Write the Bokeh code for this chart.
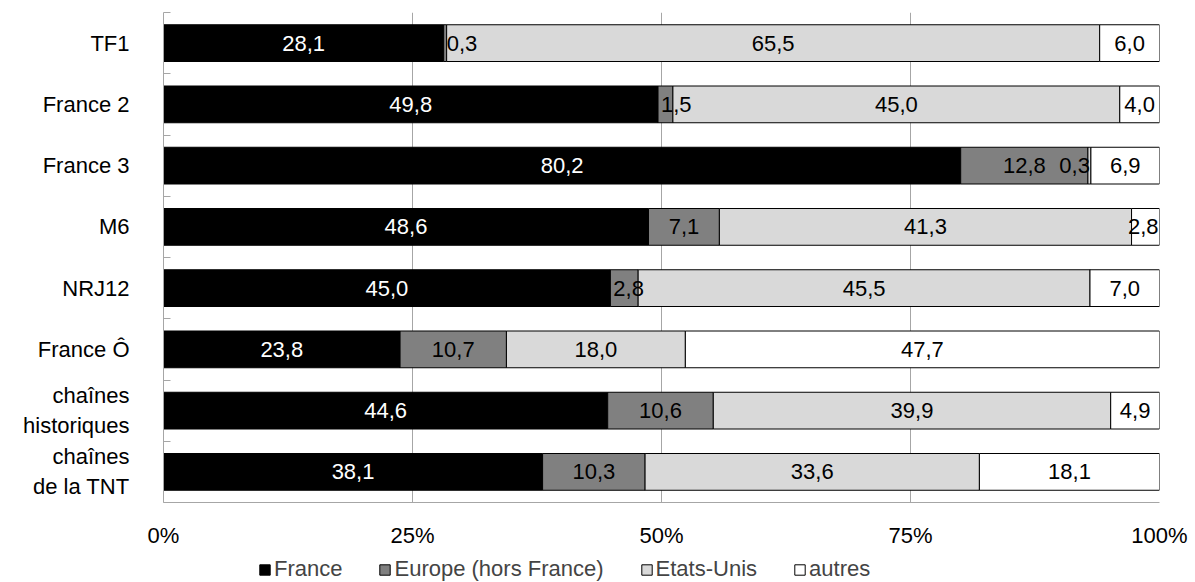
import numpy as np
from bokeh.plotting import figure
from bokeh.layouts import column
from bokeh.models import (ColumnDataSource, Range1d, FixedTicker, PrintfTickFormatter,
                          Legend, LegendItem)
from bokeh.core.properties import value
from bokeh.embed import file_html
from bokeh.resources import INLINE

categories = ["TF1", "France 2", "France 3", "M6", "NRJ12", "France Ô",
              "chaînes\nhistoriques", "chaînes\nde la TNT"]
series = ["France", "Europe (hors France)", "Etats-Unis", "autres"]
france = [28.1, 49.8, 80.2, 48.6, 45.0, 23.8, 44.6, 38.1]
europe = [0.3, 1.5, 12.8, 7.1, 2.8, 10.7, 10.6, 10.3]
etats_unis = [65.5, 45.0, 0.3, 41.3, 45.5, 18.0, 39.9, 33.6]
autres = [6.0, 4.0, 6.9, 2.8, 7.0, 47.7, 4.9, 18.1]
x_ticks = [0, 25, 50, 75, 100]

FONT = "Liberation Sans"
FS = "22px"
colors = ["#000000", "#808080", "#D9D9D9", "#FFFFFF"]
text_colors = ["#FFFFFF", "#000000", "#000000", "#000000"]

raw = np.array([france, europe, etats_unis, autres], dtype=float)  # (4, n)
n = len(categories)
totals = raw.sum(axis=0)
norm = raw / totals * 100.0
ypos = np.arange(n)[::-1] + 0.5  # TF1 at top

keys = ["s0", "s1", "s2", "s3"]
src = ColumnDataSource(dict(y=ypos, **{k: norm[i] for i, k in enumerate(keys)}))

p = figure(width=1195, height=550, output_backend="svg", toolbar_location=None,
           x_range=Range1d(0, 100), y_range=Range1d(0, n),
           min_border_left=163, min_border_right=36, min_border_top=12,
           min_border_bottom=47)
p.outline_line_color = None
p.background_fill_color = "white"

renderers = p.hbar_stack(keys, y="y", height=0.6, source=src, color=colors,
                         line_color="#000000", line_width=1)

# data labels
starts = np.vstack([np.zeros(n), np.cumsum(norm, axis=0)[:-1]])
ends = starts + norm
lx, ly, lt, lc, la, lo = [], [], [], [], [], []
for s in range(4):
    for c in range(n):
        v = raw[s, c]
        txt = f"{v:.1f}".replace(".", ",")
        if v < 3:
            nxt = raw[s + 1, c] if s < 3 else 0
            if nxt < 10:
                lx.append(ends[s, c]); la.append("right"); lo.append(-1)
            else:
                lx.append(starts[s, c]); la.append("left"); lo.append(3)
        else:
            lx.append((starts[s, c] + ends[s, c]) / 2); la.append("center"); lo.append(0)
        ly.append(ypos[c]); lt.append(txt); lc.append(text_colors[s])
lsrc = ColumnDataSource(dict(x=lx, y=ly, t=lt, c=lc, a=la, o=lo))
p.text(x="x", y="y", text="t", source=lsrc, text_color="c", text_align="a",
       x_offset="o", text_baseline="middle", text_font=value(FONT),
       text_font_size=FS)

# x axis
xa = p.xaxis[0]
xa.ticker = FixedTicker(ticks=x_ticks)
xa.formatter = PrintfTickFormatter(format="%d%%")
xa.major_tick_line_color = None
xa.minor_tick_line_color = None
xa.axis_line_color = "#A6A6A6"
xa.major_label_standoff = 14
xa.major_label_text_font = FONT
xa.major_label_text_font_size = FS
xa.major_label_text_color = "#000000"

# y axis
ya = p.yaxis[0]
ya.ticker = FixedTicker(ticks=list(ypos), minor_ticks=list(np.arange(n + 1)))
ya.major_label_overrides = {float(y): c for y, c in zip(ypos, categories)}
ya.major_tick_line_color = None
ya.minor_tick_line_color = "#A6A6A6"
ya.minor_tick_in = 7
ya.minor_tick_out = 0
ya.axis_line_color = "#A6A6A6"
ya.major_label_standoff = 28
ya.major_label_text_font = FONT
ya.major_label_text_font_size = FS
ya.major_label_text_color = "#000000"

p.xgrid.ticker = FixedTicker(ticks=x_ticks[1:])
p.xgrid.grid_line_color = "#A6A6A6"
p.ygrid.grid_line_color = None

# legend strip (separate figure below the chart; its bars are hidden)
pl = figure(width=1195, height=32, output_backend="svg", toolbar_location=None,
            x_range=Range1d(0, 100), y_range=Range1d(0, n),
            min_border_left=0, min_border_right=0, min_border_top=0,
            min_border_bottom=0)
pl.axis.visible = False
pl.grid.visible = False
pl.outline_line_color = None
leg_r = pl.hbar_stack(keys, y="y", height=0.6, source=src, color=colors,
                      line_color="#000000", line_width=1)
for r in leg_r:
    r.visible = False
legend = Legend(items=[LegendItem(label=s, renderers=[r]) for s, r in zip(series, leg_r)],
                orientation="horizontal", location=(95, 0),
                label_text_font=FONT, label_text_font_size=FS,
                glyph_width=13, glyph_height=13, label_standoff=3, spacing=36,
                padding=0, margin=0, border_line_color=None,
                background_fill_alpha=0, inactive_fill_alpha=0)
pl.add_layout(legend, "center")

layout = column(p, pl, spacing=0)
open("out.html", "w").write(file_html(layout, INLINE))
